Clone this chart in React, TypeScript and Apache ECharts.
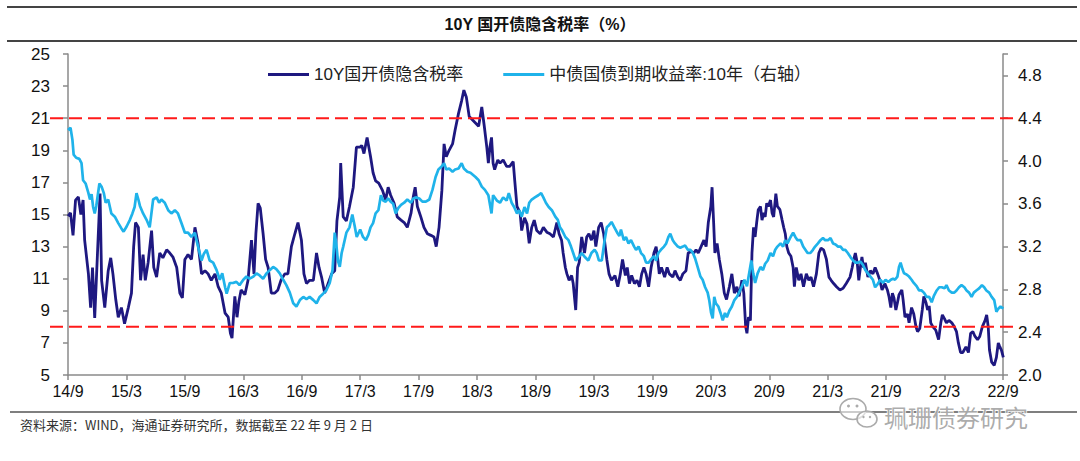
import React, { useEffect, useRef } from "react";
import * as echarts from "echarts";

const TITLE = "10Y 国开债隐含税率（%）";
const SOURCE = "资料来源：WIND，海通证券研究所，数据截至 22 年 9 月 2 日";
const WATERMARK = "珮珊债券研究";
const SERIES_NAMES = ["10Y国开债隐含税率", "中债国债到期收益率:10年（右轴）"];
const X_TICK_LABELS = [
  "14/9", "15/3", "15/9", "16/3", "16/9", "17/3", "17/9", "18/3", "18/9",
  "19/3", "19/9", "20/3", "20/9", "21/3", "21/9", "22/3", "22/9",
];
const LEFT_AXIS = { min: 5, max: 25, interval: 2 };
const RIGHT_AXIS = { min: 2.0, max: 5.0, interval: 0.4 };
const REFERENCE_LEVELS = [21, 8];

// 10Y 国开债隐含税率 (left axis, %)
const taxRate: [string, number][] = [
  ["2014-09-01", 14.9], ["2014-09-09", 15.1], ["2014-09-17", 13.7], ["2014-09-25", 15.9],
  ["2014-10-03", 16.1], ["2014-10-11", 15.0], ["2014-10-18", 15.9], ["2014-10-23", 13.4],
  ["2014-11-04", 11.3], ["2014-11-11", 9.2], ["2014-11-17", 11.7], ["2014-11-24", 8.55],
  ["2014-12-01", 12.2], ["2014-12-10", 16.3], ["2014-12-15", 10.9], ["2014-12-25", 9.2],
  ["2015-01-05", 11.5], ["2015-01-13", 12.3], ["2015-01-20", 11.3], ["2015-01-29", 9.7],
  ["2015-02-06", 8.6], ["2015-02-16", 9.2], ["2015-02-26", 8.2], ["2015-03-07", 9.2],
  ["2015-03-17", 10.1], ["2015-03-24", 13.0], ["2015-03-30", 14.5], ["2015-04-08", 14.2],
  ["2015-04-15", 10.9], ["2015-04-23", 12.5], ["2015-04-30", 10.9], ["2015-05-08", 12.0],
  ["2015-05-19", 14.0], ["2015-05-26", 11.7], ["2015-06-04", 11.1], ["2015-06-14", 12.6],
  ["2015-06-24", 12.3], ["2015-07-05", 12.8], ["2015-07-15", 12.6], ["2015-07-25", 12.35],
  ["2015-08-06", 11.7], ["2015-08-16", 10.1], ["2015-08-24", 9.8], ["2015-09-01", 12.2],
  ["2015-09-11", 12.5], ["2015-09-22", 12.2], ["2015-10-02", 14.2], ["2015-10-12", 13.2],
  ["2015-10-23", 11.3], ["2015-11-03", 11.5], ["2015-11-13", 11.3], ["2015-11-23", 10.9],
  ["2015-12-04", 11.3], ["2015-12-14", 10.5], ["2015-12-24", 10.1], ["2016-01-05", 8.85],
  ["2016-01-15", 8.6], ["2016-01-22", 7.6], ["2016-01-27", 7.3], ["2016-02-05", 9.9],
  ["2016-02-12", 8.6], ["2016-02-18", 9.6], ["2016-02-25", 10.3], ["2016-03-06", 10.0],
  ["2016-03-16", 10.9], ["2016-03-27", 13.4], ["2016-04-04", 11.3], ["2016-04-10", 13.8],
  ["2016-04-17", 15.7], ["2016-04-24", 15.4], ["2016-05-02", 13.8], ["2016-05-10", 12.2],
  ["2016-05-18", 11.7], ["2016-05-28", 10.1], ["2016-06-08", 10.1], ["2016-06-18", 10.3],
  ["2016-06-28", 10.9], ["2016-07-09", 11.3], ["2016-07-19", 11.3], ["2016-07-30", 13.0],
  ["2016-08-10", 13.8], ["2016-08-20", 14.5], ["2016-08-31", 13.4], ["2016-09-08", 11.3],
  ["2016-09-16", 10.7], ["2016-09-26", 10.9], ["2016-10-07", 10.9], ["2016-10-17", 12.6],
  ["2016-10-25", 11.7], ["2016-11-02", 11.1], ["2016-11-12", 10.1], ["2016-11-23", 10.7],
  ["2016-12-03", 11.3], ["2016-12-13", 11.5], ["2016-12-20", 14.6], ["2016-12-29", 16.1],
  ["2017-01-01", 18.2], ["2017-01-09", 14.85], ["2017-01-19", 14.6], ["2017-01-29", 15.5],
  ["2017-02-10", 16.7], ["2017-02-20", 19.2], ["2017-03-01", 19.2], ["2017-03-06", 19.3],
  ["2017-03-13", 18.8], ["2017-03-23", 19.8], ["2017-04-03", 18.6], ["2017-04-11", 17.6],
  ["2017-04-19", 17.1], ["2017-04-29", 16.95], ["2017-05-10", 16.5], ["2017-05-20", 15.9],
  ["2017-05-28", 16.7], ["2017-06-05", 16.2], ["2017-06-16", 15.7], ["2017-06-26", 14.85],
  ["2017-07-07", 14.65], ["2017-07-17", 14.5], ["2017-07-27", 14.2], ["2017-08-08", 15.1],
  ["2017-08-15", 16.1], ["2017-08-21", 16.7], ["2017-08-28", 15.5], ["2017-09-08", 14.85],
  ["2017-09-18", 14.2], ["2017-09-29", 13.8], ["2017-10-09", 13.7], ["2017-10-19", 13.6],
  ["2017-10-26", 13.0], ["2017-11-04", 14.2], ["2017-11-13", 16.5], ["2017-11-20", 19.4],
  ["2017-11-27", 18.6], ["2017-12-05", 19.0], ["2017-12-16", 19.4], ["2017-12-24", 20.25],
  ["2018-01-04", 21.3], ["2018-01-14", 22.1], ["2018-01-21", 22.75], ["2018-01-29", 22.3],
  ["2018-02-07", 21.1], ["2018-02-17", 20.9], ["2018-02-27", 20.7], ["2018-03-06", 20.5],
  ["2018-03-16", 21.7], ["2018-03-24", 20.5], ["2018-04-01", 19.2], ["2018-04-06", 18.2],
  ["2018-04-11", 19.2], ["2018-04-16", 19.8], ["2018-04-21", 18.2], ["2018-04-26", 17.8],
  ["2018-05-05", 18.4], ["2018-05-12", 18.2], ["2018-05-22", 18.4], ["2018-06-02", 18.0],
  ["2018-06-12", 18.0], ["2018-06-23", 18.3], ["2018-06-28", 17.1], ["2018-07-04", 15.5],
  ["2018-07-14", 15.1], ["2018-07-19", 14.0], ["2018-07-28", 14.8], ["2018-08-05", 14.4],
  ["2018-08-12", 13.2], ["2018-08-20", 14.2], ["2018-08-28", 14.65], ["2018-09-05", 14.0],
  ["2018-09-16", 13.8], ["2018-09-26", 14.2], ["2018-10-06", 13.9], ["2018-10-16", 13.8],
  ["2018-10-27", 13.6], ["2018-11-07", 14.5], ["2018-11-14", 13.8], ["2018-11-22", 13.4],
  ["2018-11-27", 12.6], ["2018-12-03", 11.7], ["2018-12-08", 11.3], ["2018-12-15", 10.9],
  ["2018-12-23", 11.2], ["2018-12-28", 10.7], ["2019-01-05", 9.05], ["2019-01-11", 11.7],
  ["2019-01-16", 12.0], ["2019-01-24", 13.6], ["2019-02-02", 12.6], ["2019-02-09", 13.6],
  ["2019-02-16", 13.8], ["2019-02-24", 13.4], ["2019-03-01", 14.0], ["2019-03-07", 13.0],
  ["2019-03-16", 14.2], ["2019-03-24", 14.5], ["2019-04-01", 13.8], ["2019-04-11", 12.2],
  ["2019-04-18", 11.3], ["2019-04-26", 10.9], ["2019-05-06", 11.2], ["2019-05-15", 10.5],
  ["2019-05-23", 11.3], ["2019-05-30", 12.2], ["2019-06-08", 11.2], ["2019-06-14", 11.7],
  ["2019-06-21", 10.7], ["2019-06-28", 11.2], ["2019-07-06", 10.7], ["2019-07-14", 10.9],
  ["2019-07-22", 10.5], ["2019-07-29", 11.3], ["2019-08-05", 11.7], ["2019-08-12", 11.3],
  ["2019-08-20", 10.5], ["2019-08-28", 11.7], ["2019-09-06", 12.6], ["2019-09-13", 13.0],
  ["2019-09-18", 12.2], ["2019-09-23", 11.3], ["2019-09-30", 11.7], ["2019-10-09", 11.1],
  ["2019-10-17", 11.7], ["2019-10-24", 11.3], ["2019-11-04", 11.1], ["2019-11-11", 11.5],
  ["2019-11-20", 11.1], ["2019-11-28", 10.9], ["2019-12-05", 11.3], ["2019-12-15", 11.5],
  ["2019-12-22", 12.6], ["2019-12-31", 12.7], ["2020-01-09", 12.6], ["2020-01-16", 12.8],
  ["2020-01-23", 12.6], ["2020-02-01", 13.0], ["2020-02-10", 13.4], ["2020-02-17", 13.0],
  ["2020-02-24", 14.5], ["2020-03-01", 15.5], ["2020-03-05", 16.7], ["2020-03-10", 14.5],
  ["2020-03-14", 12.6], ["2020-03-21", 13.2], ["2020-03-28", 12.2], ["2020-04-05", 11.3],
  ["2020-04-13", 10.1], ["2020-04-20", 9.7], ["2020-04-29", 10.5], ["2020-05-06", 11.3],
  ["2020-05-14", 10.1], ["2020-05-22", 10.5], ["2020-05-29", 9.9], ["2020-06-07", 10.9],
  ["2020-06-13", 10.1], ["2020-06-19", 8.0], ["2020-06-23", 7.6], ["2020-06-28", 8.6],
  ["2020-07-03", 8.4], ["2020-07-08", 12.6], ["2020-07-13", 14.2], ["2020-07-18", 13.6],
  ["2020-07-23", 14.5], ["2020-07-28", 15.3], ["2020-08-04", 15.5], ["2020-08-09", 14.65],
  ["2020-08-14", 15.1], ["2020-08-19", 14.85], ["2020-08-24", 15.7], ["2020-08-29", 15.5],
  ["2020-09-05", 15.9], ["2020-09-10", 15.1], ["2020-09-15", 14.85], ["2020-09-22", 16.3],
  ["2020-09-27", 15.5], ["2020-10-04", 15.3], ["2020-10-11", 14.65], ["2020-10-16", 14.2],
  ["2020-10-21", 13.8], ["2020-10-26", 13.0], ["2020-11-01", 12.6], ["2020-11-08", 12.4],
  ["2020-11-15", 11.7], ["2020-11-19", 10.5], ["2020-11-25", 11.7], ["2020-12-02", 10.9],
  ["2020-12-09", 11.3], ["2020-12-17", 10.5], ["2020-12-26", 11.3], ["2021-01-03", 10.9],
  ["2021-01-10", 11.1], ["2021-01-18", 10.5], ["2021-01-27", 11.3], ["2021-02-04", 12.6],
  ["2021-02-11", 12.9], ["2021-02-19", 12.8], ["2021-02-28", 12.2], ["2021-03-05", 11.1],
  ["2021-03-12", 10.9], ["2021-03-20", 10.7], ["2021-03-29", 10.5], ["2021-04-09", 10.3],
  ["2021-04-19", 10.4], ["2021-04-29", 10.7], ["2021-05-10", 11.1], ["2021-05-17", 11.7],
  ["2021-05-22", 12.2], ["2021-05-27", 12.6], ["2021-06-02", 12.0], ["2021-06-07", 10.9],
  ["2021-06-12", 11.7], ["2021-06-17", 12.35], ["2021-06-22", 11.7], ["2021-06-28", 12.0],
  ["2021-07-05", 11.1], ["2021-07-13", 11.5], ["2021-07-21", 11.3], ["2021-07-28", 11.7],
  ["2021-08-05", 11.3], ["2021-08-12", 10.9], ["2021-08-19", 10.3], ["2021-08-24", 10.5],
  ["2021-08-28", 10.7], ["2021-09-05", 10.3], ["2021-09-10", 9.9], ["2021-09-16", 9.2],
  ["2021-09-21", 10.1], ["2021-09-26", 9.8], ["2021-10-01", 9.05], ["2021-10-06", 9.5],
  ["2021-10-11", 10.0], ["2021-10-20", 10.3], ["2021-10-24", 9.7], ["2021-10-30", 8.6],
  ["2021-11-07", 8.8], ["2021-11-12", 8.25], ["2021-11-20", 9.2], ["2021-11-27", 8.8],
  ["2021-12-03", 8.0], ["2021-12-08", 7.7], ["2021-12-15", 7.9], ["2021-12-23", 9.05],
  ["2021-12-28", 9.9], ["2022-01-04", 9.5], ["2022-01-09", 9.05], ["2022-01-14", 9.3],
  ["2022-01-19", 8.25], ["2022-01-26", 8.0], ["2022-02-04", 7.8], ["2022-02-13", 7.2],
  ["2022-02-20", 8.25], ["2022-02-25", 8.75], ["2022-03-01", 8.5], ["2022-03-07", 8.25],
  ["2022-03-15", 8.4], ["2022-03-24", 8.25], ["2022-04-01", 8.0], ["2022-04-08", 7.7],
  ["2022-04-14", 7.0], ["2022-04-21", 6.4], ["2022-04-28", 6.4], ["2022-05-07", 6.75],
  ["2022-05-15", 6.4], ["2022-05-22", 7.6], ["2022-05-29", 7.7], ["2022-06-05", 7.4],
  ["2022-06-13", 7.2], ["2022-06-20", 7.4], ["2022-06-28", 8.0], ["2022-07-06", 8.4],
  ["2022-07-11", 8.75], ["2022-07-16", 8.0], ["2022-07-20", 6.55], ["2022-07-27", 5.8],
  ["2022-08-04", 5.6], ["2022-08-11", 6.1], ["2022-08-17", 7.0], ["2022-08-21", 6.8],
  ["2022-08-27", 6.55], ["2022-09-02", 6.1],
];

// 中债国债到期收益率:10年 (right axis, %)
const cgbYield: [string, number][] = [
  ["2014-09-01", 4.29], ["2014-09-09", 4.31], ["2014-09-15", 4.20], ["2014-09-19", 4.06],
  ["2014-09-27", 4.03], ["2014-10-06", 4.02], ["2014-10-13", 3.98], ["2014-10-18", 3.82],
  ["2014-10-26", 3.79], ["2014-11-04", 3.70], ["2014-11-09", 3.64], ["2014-11-14", 3.69],
  ["2014-11-19", 3.57], ["2014-11-24", 3.51], ["2014-11-29", 3.58], ["2014-12-08", 3.79],
  ["2014-12-15", 3.76], ["2014-12-22", 3.70], ["2014-12-28", 3.61], ["2015-01-05", 3.64],
  ["2015-01-15", 3.51], ["2015-01-26", 3.48], ["2015-02-06", 3.42], ["2015-02-16", 3.37],
  ["2015-02-23", 3.34], ["2015-03-02", 3.39], ["2015-03-12", 3.45], ["2015-03-20", 3.51],
  ["2015-03-27", 3.57], ["2015-04-02", 3.70], ["2015-04-08", 3.64], ["2015-04-13", 3.58],
  ["2015-04-23", 3.51], ["2015-05-03", 3.45], ["2015-05-13", 3.38], ["2015-05-24", 3.64],
  ["2015-06-04", 3.66], ["2015-06-12", 3.61], ["2015-06-19", 3.64], ["2015-06-30", 3.61],
  ["2015-07-10", 3.54], ["2015-07-20", 3.51], ["2015-07-31", 3.54], ["2015-08-10", 3.51],
  ["2015-08-21", 3.42], ["2015-09-01", 3.33], ["2015-09-11", 3.33], ["2015-09-22", 3.29],
  ["2015-10-02", 3.33], ["2015-10-07", 3.26], ["2015-10-12", 3.20], ["2015-10-23", 3.07],
  ["2015-10-30", 3.13], ["2015-11-08", 3.17], ["2015-11-18", 3.07], ["2015-11-29", 3.05],
  ["2015-12-09", 2.98], ["2015-12-19", 2.89], ["2015-12-27", 2.95], ["2016-01-05", 2.82],
  ["2016-01-10", 2.76], ["2016-01-20", 2.86], ["2016-01-30", 2.86], ["2016-02-10", 2.87],
  ["2016-02-20", 2.84], ["2016-03-01", 2.89], ["2016-03-11", 2.92], ["2016-03-21", 2.90],
  ["2016-04-02", 2.92], ["2016-04-12", 2.95], ["2016-04-22", 2.93], ["2016-05-02", 2.90],
  ["2016-05-13", 2.95], ["2016-05-23", 2.98], ["2016-06-03", 3.01], ["2016-06-13", 2.99],
  ["2016-06-24", 2.95], ["2016-07-04", 2.89], ["2016-07-14", 2.84], ["2016-07-25", 2.77],
  ["2016-08-05", 2.67], ["2016-08-15", 2.64], ["2016-08-26", 2.70], ["2016-09-06", 2.73],
  ["2016-09-16", 2.71], ["2016-09-26", 2.73], ["2016-10-07", 2.70], ["2016-10-17", 2.67],
  ["2016-10-27", 2.73], ["2016-11-07", 2.76], ["2016-11-17", 2.79], ["2016-11-28", 2.86],
  ["2016-12-06", 2.98], ["2016-12-13", 3.33], ["2016-12-18", 3.22], ["2016-12-23", 3.07],
  ["2016-12-29", 3.01], ["2017-01-04", 3.14], ["2017-01-09", 3.20], ["2017-01-19", 3.33],
  ["2017-01-29", 3.38], ["2017-02-07", 3.50], ["2017-02-14", 3.40], ["2017-02-21", 3.29],
  ["2017-03-01", 3.36], ["2017-03-10", 3.29], ["2017-03-19", 3.26], ["2017-03-27", 3.31],
  ["2017-04-03", 3.38], ["2017-04-11", 3.42], ["2017-04-19", 3.51], ["2017-04-28", 3.54],
  ["2017-05-05", 3.68], ["2017-05-12", 3.63], ["2017-05-20", 3.62], ["2017-05-28", 3.65],
  ["2017-06-05", 3.62], ["2017-06-13", 3.60], ["2017-06-21", 3.51], ["2017-06-29", 3.56],
  ["2017-07-07", 3.59], ["2017-07-17", 3.61], ["2017-07-27", 3.64], ["2017-08-08", 3.61],
  ["2017-08-15", 3.65], ["2017-08-23", 3.66], ["2017-09-03", 3.65], ["2017-09-13", 3.62],
  ["2017-09-24", 3.62], ["2017-10-04", 3.64], ["2017-10-14", 3.73], ["2017-10-24", 3.85],
  ["2017-11-02", 3.92], ["2017-11-13", 3.95], ["2017-11-20", 3.98], ["2017-11-27", 3.92],
  ["2017-12-05", 3.93], ["2017-12-16", 3.90], ["2017-12-24", 3.92], ["2018-01-04", 3.93],
  ["2018-01-14", 3.98], ["2018-01-21", 3.93], ["2018-02-01", 3.90], ["2018-02-11", 3.89],
  ["2018-02-27", 3.85], ["2018-03-06", 3.82], ["2018-03-16", 3.76], ["2018-03-26", 3.73],
  ["2018-04-06", 3.68], ["2018-04-16", 3.51], ["2018-04-21", 3.68], ["2018-05-02", 3.63],
  ["2018-05-12", 3.61], ["2018-05-22", 3.66], ["2018-06-02", 3.63], ["2018-06-09", 3.70],
  ["2018-06-18", 3.61], ["2018-06-26", 3.57], ["2018-07-04", 3.51], ["2018-07-11", 3.54],
  ["2018-07-19", 3.48], ["2018-07-28", 3.57], ["2018-08-05", 3.51], ["2018-08-12", 3.61],
  ["2018-08-20", 3.64], ["2018-08-30", 3.66], ["2018-09-10", 3.68], ["2018-09-19", 3.70],
  ["2018-09-26", 3.66], ["2018-10-03", 3.61], ["2018-10-12", 3.57], ["2018-10-22", 3.54],
  ["2018-11-02", 3.48], ["2018-11-10", 3.45], ["2018-11-17", 3.38], ["2018-11-24", 3.35],
  ["2018-12-03", 3.29], ["2018-12-13", 3.26], ["2018-12-21", 3.20], ["2018-12-28", 3.14],
  ["2019-01-05", 3.07], ["2019-01-14", 3.10], ["2019-01-24", 3.14], ["2019-02-04", 3.10],
  ["2019-02-14", 3.07], ["2019-02-24", 3.14], ["2019-03-03", 3.17], ["2019-03-10", 3.14],
  ["2019-03-17", 3.07], ["2019-03-26", 3.07], ["2019-04-04", 3.26], ["2019-04-11", 3.38],
  ["2019-04-18", 3.40], ["2019-04-26", 3.43], ["2019-05-04", 3.38], ["2019-05-13", 3.33],
  ["2019-05-20", 3.30], ["2019-05-25", 3.36], ["2019-06-03", 3.26], ["2019-06-10", 3.29],
  ["2019-06-18", 3.23], ["2019-06-26", 3.26], ["2019-07-05", 3.20], ["2019-07-11", 3.17],
  ["2019-07-19", 3.20], ["2019-07-27", 3.14], ["2019-08-05", 3.11], ["2019-08-12", 3.05],
  ["2019-08-20", 3.05], ["2019-08-28", 3.08], ["2019-09-06", 3.11], ["2019-09-13", 3.07],
  ["2019-09-20", 3.14], ["2019-09-28", 3.17], ["2019-10-07", 3.20], ["2019-10-14", 3.23],
  ["2019-10-21", 3.29], ["2019-10-27", 3.32], ["2019-11-04", 3.26], ["2019-11-11", 3.23],
  ["2019-11-20", 3.20], ["2019-11-28", 3.19], ["2019-12-05", 3.20], ["2019-12-12", 3.21],
  ["2019-12-21", 3.17], ["2019-12-29", 3.17], ["2020-01-06", 3.14], ["2020-01-13", 3.09],
  ["2020-01-21", 3.01], ["2020-01-30", 2.92], ["2020-02-06", 2.89], ["2020-02-14", 2.82],
  ["2020-02-22", 2.77], ["2020-02-27", 2.70], ["2020-03-02", 2.58], ["2020-03-07", 2.53],
  ["2020-03-12", 2.73], ["2020-03-17", 2.67], ["2020-03-25", 2.64], ["2020-04-01", 2.58],
  ["2020-04-08", 2.51], ["2020-04-15", 2.58], ["2020-04-21", 2.54], ["2020-04-29", 2.60],
  ["2020-05-06", 2.64], ["2020-05-14", 2.70], ["2020-05-22", 2.73], ["2020-05-29", 2.77],
  ["2020-06-07", 2.83], ["2020-06-15", 2.89], ["2020-06-23", 2.83], ["2020-07-06", 3.07],
  ["2020-07-12", 2.95], ["2020-07-18", 2.86], ["2020-07-26", 2.95], ["2020-08-04", 3.01],
  ["2020-08-12", 2.98], ["2020-08-19", 3.04], ["2020-08-27", 3.07], ["2020-09-05", 3.14],
  ["2020-09-13", 3.11], ["2020-09-20", 3.17], ["2020-09-27", 3.20], ["2020-10-06", 3.23],
  ["2020-10-14", 3.20], ["2020-10-21", 3.26], ["2020-10-28", 3.23], ["2020-11-07", 3.29],
  ["2020-11-15", 3.33], ["2020-11-22", 3.29], ["2020-11-29", 3.26], ["2020-12-08", 3.26],
  ["2020-12-16", 3.20], ["2020-12-23", 3.17], ["2020-12-30", 3.14], ["2021-01-08", 3.14],
  ["2021-01-16", 3.17], ["2021-01-23", 3.20], ["2021-02-01", 3.23], ["2021-02-09", 3.26],
  ["2021-02-17", 3.28], ["2021-02-24", 3.26], ["2021-03-02", 3.26], ["2021-03-10", 3.28],
  ["2021-03-18", 3.23], ["2021-03-26", 3.22], ["2021-04-03", 3.20], ["2021-04-11", 3.20],
  ["2021-04-19", 3.17], ["2021-04-26", 3.17], ["2021-05-03", 3.14], ["2021-05-12", 3.10],
  ["2021-05-20", 3.07], ["2021-05-27", 3.05], ["2021-06-04", 3.05], ["2021-06-12", 3.06],
  ["2021-06-20", 3.03], ["2021-06-28", 2.98], ["2021-07-05", 2.95], ["2021-07-13", 2.92],
  ["2021-07-21", 2.89], ["2021-07-28", 2.82], ["2021-08-05", 2.85], ["2021-08-14", 2.89],
  ["2021-08-22", 2.86], ["2021-08-30", 2.89], ["2021-09-08", 2.87], ["2021-09-16", 2.89],
  ["2021-09-23", 2.90], ["2021-09-29", 2.89], ["2021-10-06", 2.92], ["2021-10-11", 3.01],
  ["2021-10-16", 3.05], ["2021-10-22", 2.99], ["2021-10-27", 2.95], ["2021-11-04", 2.94],
  ["2021-11-12", 2.92], ["2021-11-20", 2.89], ["2021-11-27", 2.86], ["2021-12-05", 2.83],
  ["2021-12-13", 2.79], ["2021-12-21", 2.79], ["2021-12-28", 2.77], ["2022-01-06", 2.73],
  ["2022-01-14", 2.73], ["2022-01-22", 2.68], ["2022-01-29", 2.74], ["2022-02-07", 2.79],
  ["2022-02-15", 2.82], ["2022-02-23", 2.82], ["2022-03-01", 2.81], ["2022-03-07", 2.84],
  ["2022-03-15", 2.79], ["2022-03-24", 2.77], ["2022-04-01", 2.77], ["2022-04-08", 2.79],
  ["2022-04-16", 2.82], ["2022-04-24", 2.84], ["2022-05-02", 2.82], ["2022-05-09", 2.79],
  ["2022-05-17", 2.77], ["2022-05-25", 2.73], ["2022-06-01", 2.77], ["2022-06-09", 2.79],
  ["2022-06-18", 2.81], ["2022-06-27", 2.84], ["2022-07-03", 2.82], ["2022-07-10", 2.79],
  ["2022-07-19", 2.77], ["2022-07-27", 2.73], ["2022-08-04", 2.70], ["2022-08-11", 2.59],
  ["2022-08-17", 2.62], ["2022-08-24", 2.64], ["2022-09-02", 2.62],
];

const DARK = "#1E1880";
const LIGHT = "#1FB3EA";
const LATIN = "'Liberation Sans', 'Noto Sans CJK SC', sans-serif";
const CJK = "'Noto Sans CJK SC', 'Liberation Sans', sans-serif";

// months elapsed since 2014-09-01
function monthsSince(d: string): number {
  const [y, m, day] = d.split("-").map(Number);
  return (y - 2014) * 12 + (m - 9) + (day - 1) / 31;
}

export default function App() {
  const ref = useRef<HTMLDivElement>(null);

  useEffect(() => {
    document.body.style.margin = "0";
    if (!ref.current) return;
    const chart = echarts.init(ref.current, undefined, { renderer: "svg" });

    const axisLineStyle = { color: "#8a8a8a", width: 1.5 };
    const option: any = {
      animation: false,
      backgroundColor: "#ffffff",
      grid: { left: 68, right: 77, top: 54, bottom: 86 },
      legend: {
        data: SERIES_NAMES,
        left: 263,
        top: 61,
        icon: "rect",
        itemWidth: 41,
        itemHeight: 3,
        itemGap: 40,
        textStyle: { fontSize: 17, color: "#222", fontFamily: LATIN },
      },
      xAxis: {
        type: "value",
        min: 0,
        max: (X_TICK_LABELS.length - 1) * 6,
        interval: 6,
        axisLine: { show: true, lineStyle: axisLineStyle },
        axisTick: { show: true, length: 5, lineStyle: axisLineStyle },
        splitLine: { show: false },
        axisLabel: {
          margin: 8,
          fontSize: 16,
          color: "#111",
          fontFamily: LATIN,
          showMinLabel: true,
          showMaxLabel: true,
          formatter: (v: number) => X_TICK_LABELS[Math.round(v / 6)] ?? "",
        },
      },
      yAxis: [
        {
          type: "value",
          position: "left",
          min: LEFT_AXIS.min,
          max: LEFT_AXIS.max,
          interval: LEFT_AXIS.interval,
          axisLine: { show: true, lineStyle: axisLineStyle },
          axisTick: { show: true, length: 5, lineStyle: axisLineStyle },
          splitLine: { show: false },
          axisLabel: { margin: 18, fontSize: 17, color: "#111", fontFamily: LATIN },
        },
        {
          type: "value",
          position: "right",
          min: RIGHT_AXIS.min,
          max: RIGHT_AXIS.max,
          interval: RIGHT_AXIS.interval,
          axisLine: { show: true, lineStyle: axisLineStyle },
          axisTick: { show: true, length: 5, lineStyle: axisLineStyle },
          splitLine: { show: false },
          axisLabel: {
            margin: 15,
            fontSize: 17,
            color: "#111",
            fontFamily: LATIN,
            formatter: (v: number) => (v > RIGHT_AXIS.max - 0.1 ? "" : v.toFixed(1)),
          },
        },
      ],
      series: [
        {
          name: SERIES_NAMES[0],
          type: "line",
          yAxisIndex: 0,
          showSymbol: false,
          clip: false,
          color: DARK,
          lineStyle: { color: DARK, width: 2.8 },
          data: taxRate.map(([d, v]) => [monthsSince(d), v]),
        },
        {
          name: SERIES_NAMES[1],
          type: "line",
          yAxisIndex: 1,
          showSymbol: false,
          clip: false,
          color: LIGHT,
          lineStyle: { color: LIGHT, width: 2.7 },
          data: cgbYield.map(([d, v]) => [monthsSince(d), v]),
        },
      ],
    };
    chart.setOption(option);

    const xStart = chart.convertToPixel({ xAxisIndex: 0 }, 0) as number;
    const xEnd = chart.convertToPixel({ xAxisIndex: 0 }, (X_TICK_LABELS.length - 1) * 6) as number;
    const refLines = REFERENCE_LEVELS.map((lvl) => {
      const y = chart.convertToPixel({ yAxisIndex: 0 }, lvl) as number;
      return {
        type: "line",
        z: 5,
        shape: { x1: xStart - 18, y1: y, x2: xEnd + 14, y2: y },
        style: { stroke: "#FF1A1A", lineWidth: 2, lineDash: [13, 6] },
      };
    });

    const iconStroke = "#ababab";
    const graphic: any[] = [
      { type: "line", shape: { x1: 7, y1: 7, x2: 1077, y2: 7 }, style: { stroke: "#444", lineWidth: 2 } },
      { type: "line", shape: { x1: 7, y1: 41, x2: 1077, y2: 41 }, style: { stroke: "#444", lineWidth: 2 } },
      { type: "line", shape: { x1: 10, y1: 412, x2: 1077, y2: 412 }, style: { stroke: "#555", lineWidth: 1.5 } },
      {
        type: "text",
        x: 540,
        y: 24,
        style: {
          text: TITLE,
          fill: "#111",
          font: `bold 16px ${LATIN}`,
          textAlign: "center",
          textVerticalAlign: "middle",
          align: "center",
          verticalAlign: "middle",
        },
      },
      {
        type: "text",
        x: 20,
        y: 424,
        style: {
          text: SOURCE,
          fill: "#333",
          font: `13px ${CJK}`,
          textVerticalAlign: "middle",
          verticalAlign: "middle",
        },
      },
      {
        type: "group",
        z: 10,
        children: [
          { type: "ellipse", shape: { cx: 853, cy: 409, rx: 13, ry: 10.5 }, style: { fill: "rgba(255,255,255,0.6)", stroke: iconStroke, lineWidth: 1.6 } },
          { type: "ellipse", shape: { cx: 867, cy: 419, rx: 10, ry: 8 }, style: { fill: "rgba(255,255,255,0.6)", stroke: iconStroke, lineWidth: 1.6 } },
          { type: "circle", shape: { cx: 848.5, cy: 406, r: 1.5 }, style: { fill: iconStroke } },
          { type: "circle", shape: { cx: 857, cy: 406, r: 1.5 }, style: { fill: iconStroke } },
          { type: "circle", shape: { cx: 863.5, cy: 417, r: 1.2 }, style: { fill: iconStroke } },
          { type: "circle", shape: { cx: 870, cy: 417, r: 1.2 }, style: { fill: iconStroke } },
          {
            type: "text",
            x: 884,
            y: 416,
            style: {
              text: WATERMARK,
              fill: "rgba(150,150,150,0.8)",
              stroke: "rgba(255,255,255,0.9)",
              lineWidth: 1.5,
              font: `24px ${CJK}`,
              textVerticalAlign: "middle",
              verticalAlign: "middle",
            },
          },
        ],
      },
      ...refLines,
    ];
    chart.setOption({ graphic: { elements: graphic } });

    return () => chart.dispose();
  }, []);

  return (
    <div
      ref={ref}
      style={{ position: "fixed", left: 0, top: 0, width: 1080, height: 461, background: "#fff" }}
    />
  );
}
